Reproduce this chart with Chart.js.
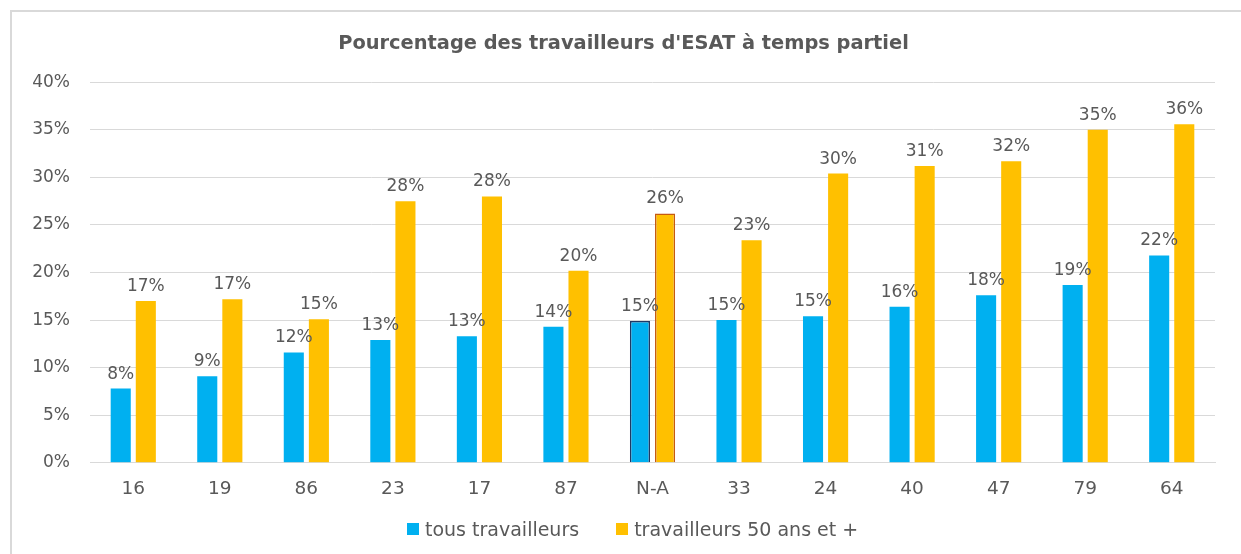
<!DOCTYPE html>
<html>
<head>
<meta charset="utf-8">
<script src="https://cdn.jsdelivr.net/npm/chart.js@4"></script>
<style>
  html, body { margin: 0; padding: 0; background: #fff; overflow: hidden; }
  .frame {
    position: absolute; left: 10px; top: 10px;
    width: 1270px; height: 570px;
    border: 2px solid #d9d9d9; box-sizing: border-box;
  }
  canvas { display: block; }
  #legend {
    position: absolute; left: 407px; top: 518px;
    display: flex; align-items: center;
    font: 19px 'DejaVu Sans', sans-serif; color: #595959;
  }
  #legend .item { display: flex; align-items: center; margin-right: 37px; }
  #legend .box { width: 12px; height: 12px; margin-right: 6px; }
</style>
</head>
<body>
<div class="frame"><canvas id="chart" width="1218" height="546"></canvas></div>
<div id="legend"></div>
<script>
// catégories (départements) et séries, en %
const categories = ['16', '19', '86', '23', '17', '87', 'N-A', '33', '24', '40', '47', '79', '64'];
const tousTravailleurs = [7.8, 9.1, 11.6, 12.9, 13.3, 14.3, 14.9, 15.0, 15.4, 16.4, 17.6, 18.7, 21.8];
const travailleurs50 = [17.0, 17.2, 15.1, 27.5, 28.0, 20.2, 26.2, 23.4, 30.4, 31.2, 31.7, 35.0, 35.6];
const yTicks = [0, 5, 10, 15, 20, 25, 30, 35, 40];

const FONT = "'DejaVu Sans', sans-serif";
const GREY = '#595959';

// étiquettes de valeur au-dessus des barres
const valueLabels = {
    id: 'valueLabels',
    afterDatasetsDraw(chart) {
        const ctx = chart.ctx;
        ctx.save();
        ctx.font = '17px ' + FONT;
        ctx.fillStyle = GREY;
        ctx.textAlign = 'center';
        ctx.textBaseline = 'bottom';
        chart.data.datasets.forEach((ds, di) => {
            chart.getDatasetMeta(di).data.forEach((bar, i) => {
                ctx.fillText(Math.round(ds.data[i]) + '%', bar.x, bar.y - 6);
            });
        });
        ctx.restore();
    }
};

const naIndex = categories.indexOf('N-A');

const chart = new Chart(document.getElementById('chart'), {
    type: 'bar',
    data: {
        labels: categories,
        datasets: [{
            label: 'tous travailleurs',
            data: tousTravailleurs,
            backgroundColor: '#00b0f0',
            borderColor: categories.map((c, i) => i === naIndex ? '#1f3864' : '#00b0f0'),
            borderWidth: categories.map((c, i) => i === naIndex ? 1.5 : 0),
            categoryPercentage: 0.58,
            barPercentage: 0.8
        }, {
            label: 'travailleurs 50 ans et +',
            data: travailleurs50,
            backgroundColor: '#ffc000',
            borderColor: categories.map((c, i) => i === naIndex ? '#c55a11' : '#ffc000'),
            borderWidth: categories.map((c, i) => i === naIndex ? 1.5 : 0),
            categoryPercentage: 0.58,
            barPercentage: 0.8
        }]
    },
    options: {
        responsive: false,
        animation: false,
        layout: { padding: { left: 20, right: 15, top: 6, bottom: 43 } },
        plugins: {
            title: {
                display: true,
                text: "Pourcentage des travailleurs d'ESAT à temps partiel",
                color: GREY,
                font: { family: FONT, size: 19.4, weight: 'bold' },
                padding: { top: 14, bottom: 27 }
            },
            legend: { display: false },
            tooltip: { enabled: false }
        },
        scales: {
            y: {
                min: 0,
                max: 40,
                afterBuildTicks: axis => { axis.ticks = yTicks.map(v => ({ value: v })); },
                afterFit: axis => { axis.width = 58; },
                ticks: {
                    color: GREY,
                    font: { family: FONT, size: 17 },
                    padding: 20,
                    callback: v => v + '%'
                },
                grid: { color: '#d9d9d9', drawTicks: false },
                border: { display: false }
            },
            x: {
                ticks: {
                    color: GREY,
                    font: { family: FONT, size: 18.5 },
                    padding: 15
                },
                grid: { display: false, drawTicks: false },
                border: { color: '#d9d9d9' }
            }
        }
    },
    plugins: [valueLabels]
});

// légende HTML construite à partir des séries
const legend = document.getElementById('legend');
chart.data.datasets.forEach(ds => {
    const item = document.createElement('div');
    item.className = 'item';
    const box = document.createElement('span');
    box.className = 'box';
    box.style.background = ds.backgroundColor;
    item.appendChild(box);
    item.appendChild(document.createTextNode(ds.label));
    legend.appendChild(item);
});
</script>
</body>
</html>
